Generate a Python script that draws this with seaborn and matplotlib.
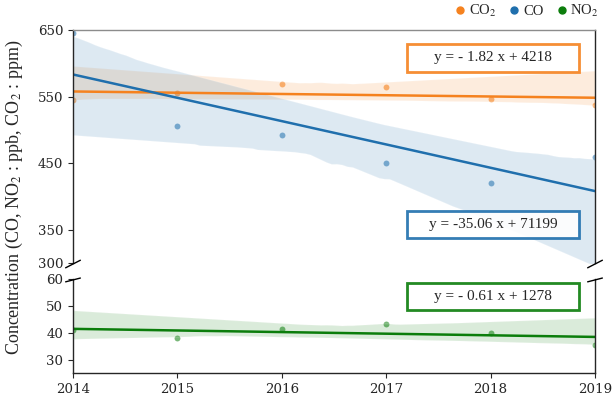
import numpy as np
import pandas as pd
import matplotlib.pyplot as plt
import seaborn as sns
from matplotlib.patches import Rectangle
from matplotlib.lines import Line2D

sns.set_style('ticks')
plt.rcParams['font.family'] = ['Liberation Serif', 'DejaVu Serif']
plt.rcParams['mathtext.fontset'] = 'stix'

# --- Data ---
years = [2014, 2015, 2016, 2017, 2018, 2019]
co2 = [545, 555, 569, 565, 546, 538]
co = [645, 506, 492, 451, 421, 459]
no2 = [41.1, 38.2, 41.5, 43.4, 39.9, 35.5]
eq_labels = ['y = - 1.82 x + 4218', 'y = -35.06 x + 71199', 'y = - 0.61 x + 1278']
legend_labels = [r'CO$_2$', 'CO', r'NO$_2$']

c_co2 = '#f5821f'
c_co = '#1f6fad'
c_no2 = '#0b7d0b'

df = pd.DataFrame({'year': years, 'CO2': co2, 'CO': co, 'NO2': no2})

fig = plt.figure(figsize=(6.15, 3.95), dpi=100)
ax_top = fig.add_axes([0.1187, 0.334, 0.8488, 0.590])
ax_bot = fig.add_axes([0.1187, 0.0557, 0.8488, 0.238])

kw = dict(ci=95, seed=0, n_boot=1000)
sns.regplot(data=df, x='year', y='CO2', ax=ax_top, color=c_co2,
            scatter_kws={'s': 18, 'alpha': 0.6, 'linewidths': 0},
            line_kws={'lw': 1.8}, **kw)
sns.regplot(data=df, x='year', y='CO', ax=ax_top, color=c_co,
            scatter_kws={'s': 18, 'alpha': 0.55, 'linewidths': 0},
            line_kws={'lw': 1.8}, **kw)
sns.regplot(data=df, x='year', y='NO2', ax=ax_bot, color=c_no2,
            scatter_kws={'s': 18, 'alpha': 0.55, 'linewidths': 0},
            line_kws={'lw': 1.8}, **kw)

for ax in (ax_top, ax_bot):
    ax.set_xlim(2014, 2019)
    ax.set_xlabel('')
    ax.set_ylabel('')
    ax.tick_params(labelsize=9.6, length=3.5)
    for s in ax.spines.values():
        s.set_linewidth(1.0)

ax_top.set_ylim(300, 650)
ax_top.set_yticks([300, 350, 450, 550, 650])
ax_top.set_xticks([])
ax_top.spines['bottom'].set_visible(False)
ax_top.spines['top'].set_color('0.55')

ax_bot.set_ylim(25, 60)
ax_bot.set_yticks([30, 40, 50, 60])
ax_bot.set_xticks(years)
ax_bot.set_xticklabels([str(y) for y in years])
ax_bot.spines['top'].set_visible(False)

for ax in (ax_top, ax_bot):
    for lab in ax.get_yticklabels() + ax.get_xticklabels():
        lab.set_fontfamily('DejaVu Serif')

# broken axis marks
d = 0.012
kwb = dict(transform=fig.transFigure, color='k', clip_on=False, lw=1.0)
for xf in (0.1187, 0.9675):
    fig.add_artist(Line2D([xf - d, xf + d], [0.334 - d, 0.334 + d * 0.6], **kwb))
    fig.add_artist(Line2D([xf - d, xf + d], [0.2937 - d * 0.6, 0.2937 + d * 0.2], **kwb))

# equation boxes
def eq_box(ax, yc, h, text, color):
    ax.add_patch(Rectangle((0.64, yc - h / 2), 0.33, h, transform=ax.transAxes,
                           fill=True, facecolor='white', alpha=0.9,
                           edgecolor=color, lw=2, zorder=5, clip_on=False))
    ax.text(0.805, yc, text, transform=ax.transAxes, ha='center', va='center',
            fontsize=11, zorder=6)

eq_box(ax_top, 0.88, 0.12, eq_labels[0], c_co2)
eq_box(ax_top, 0.165, 0.115, eq_labels[1], c_co)
eq_box(ax_bot, 0.814, 0.287, eq_labels[2], c_no2)

# legend
handles = [Line2D([], [], marker='o', ls='', color=c, markersize=5)
           for c in (c_co2, c_co, c_no2)]
fig.legend(handles, legend_labels, loc='upper right', ncol=3, frameon=False,
           bbox_to_anchor=(0.995, 1.025), fontsize=10.5, handletextpad=0.1,
           handlelength=1.0, columnspacing=0.75)

fig.text(0.024, 0.5, r'Concentration (CO, NO$_2$ : ppb, CO$_2$ : ppm)',
         rotation=90, ha='center', va='center', fontsize=13)

fig.savefig('out.png', dpi=100)
